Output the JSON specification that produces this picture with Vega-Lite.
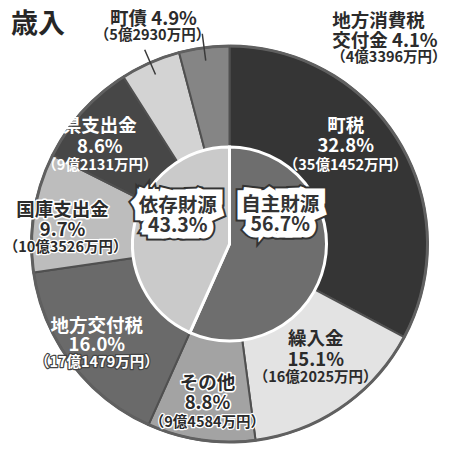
{
  "$schema": "https://vega.github.io/schema/vega-lite/v6.json",
  "width": 459,
  "height": 408,
  "autosize": {"type": "none"},
  "padding": {"left": 0, "top": 40, "right": 0, "bottom": 11},
  "background": "white",
  "title": {
    "text": "歳入",
    "anchor": "start",
    "frame": "group",
    "dx": 11,
    "dy": 50,
    "offset": 4,
    "fontSize": 27,
    "font": "Noto Sans CJK JP",
    "fontWeight": "bold",
    "color": "#262626"
  },
  "config": {
    "view": {"stroke": null},
    "text": {"font": "Noto Sans CJK JP", "fontWeight": "bold", "baseline": "middle"}
  },
  "datasets": {
    "outer": [
      {"idx": 1, "cat": "町税", "value": 32.8, "head": ["町税", "32.8%"], "amount": "（35億1452万円）"},
      {"idx": 2, "cat": "繰入金", "value": 15.1, "head": ["繰入金", "15.1%"], "amount": "（16億2025万円）"},
      {"idx": 3, "cat": "その他", "value": 8.8, "head": ["その他", "8.8%"], "amount": "（9億4584万円）"},
      {"idx": 4, "cat": "地方交付税", "value": 16.0, "head": ["地方交付税", "16.0%"], "amount": "（17億1479万円）"},
      {"idx": 5, "cat": "国庫支出金", "value": 9.7, "head": ["国庫支出金", "9.7%"], "amount": "（10億3526万円）"},
      {"idx": 6, "cat": "県支出金", "value": 8.6, "head": ["県支出金", "8.6%"], "amount": "（9億2131万円）"},
      {"idx": 7, "cat": "町債", "value": 4.9, "head": ["町債 4.9%"], "amount": "（5億2930万円）"},
      {"idx": 8, "cat": "地方消費税交付金", "value": 4.1, "head": ["地方消費税", "交付金 4.1%"], "amount": "（4億3396万円）"}
    ],
    "inner": [
      {"idx": 1, "cat": "自主財源", "value": 56.7, "head": ["自主財源", "56.7%"]},
      {"idx": 2, "cat": "依存財源", "value": 43.3, "head": ["依存財源", "43.3%"]}
    ]
  },
  "layer": [
    {
      "data": {"name": "outer"},
      "mark": {"type": "arc", "outerRadius": 198, "stroke": "#505050", "strokeWidth": 2},
      "encoding": {
        "theta": {"field": "value", "type": "quantitative", "stack": true},
        "order": {"field": "idx"},
        "color": {
          "field": "cat",
          "type": "nominal",
          "legend": null,
          "scale": {
            "domain": ["町税", "繰入金", "その他", "地方交付税", "国庫支出金", "県支出金", "町債", "地方消費税交付金", "自主財源", "依存財源"],
            "range": ["#353535", "#e3e3e3", "#a3a3a3", "#6a6a6a", "#bdbdbd", "#474747", "#d3d3d3", "#858585", "#6e6e6e", "#cacaca"]
          }
        }
      }
    },
    {
      "data": {"name": "inner"},
      "mark": {"type": "arc", "innerRadius": 196.5, "outerRadius": 199.5, "fill": "#606060"},
      "encoding": {
        "theta": {"field": "value", "type": "quantitative", "stack": true},
        "order": {"field": "idx"}
      }
    },
    {
      "data": {"name": "inner"},
      "mark": {"type": "arc", "outerRadius": 97, "stroke": "white", "strokeWidth": 3},
      "encoding": {
        "theta": {"field": "value", "type": "quantitative", "stack": true},
        "order": {"field": "idx"},
        "color": {
          "field": "cat",
          "type": "nominal",
          "legend": null,
          "scale": {
            "domain": ["町税", "繰入金", "その他", "地方交付税", "国庫支出金", "県支出金", "町債", "地方消費税交付金", "自主財源", "依存財源"],
            "range": ["#353535", "#e3e3e3", "#a3a3a3", "#6a6a6a", "#bdbdbd", "#474747", "#d3d3d3", "#858585", "#6e6e6e", "#cacaca"]
          }
        }
      }
    },
    {
      "data": {"name": "outer"},
      "mark": {"type": "arc", "innerRadius": 185, "outerRadius": 212, "padAngle": 3, "fill": null, "fillOpacity": 0, "stroke": "#3a3a3a", "strokeWidth": 1.5},
      "encoding": {
        "theta": {"field": "value", "type": "quantitative", "stack": true},
        "order": {"field": "idx"},
        "strokeOpacity": {"condition": {"test": "datum.idx >= 7", "value": 1}, "value": 0}
      }
    },
    {
      "data": {"name": "outer"},
      "mark": {"type": "text", "radius": 160, "dx": -21, "dy": -36, "fontSize": 18.5, "lineHeight": 20, "color": "#ffffff"},
      "encoding": {
        "theta": {"field": "value", "type": "quantitative", "stack": true},
        "order": {"field": "idx"},
        "text": {"condition": {"test": "datum.cat === '町税'", "field": "head", "type": "nominal"}, "value": ""}
      }
    },
    {
      "data": {"name": "outer"},
      "mark": {"type": "text", "radius": 160, "dx": -21, "dy": 4, "fontSize": 14.5, "color": "#ffffff"},
      "encoding": {
        "theta": {"field": "value", "type": "quantitative", "stack": true},
        "order": {"field": "idx"},
        "text": {"condition": {"test": "datum.cat === '町税'", "field": "amount", "type": "nominal"}, "value": ""}
      }
    },
    {
      "data": {"name": "outer"},
      "mark": {"type": "text", "radius": 160, "dx": -5, "dy": -36, "fontSize": 18.5, "lineHeight": 21, "color": "#2b2b2b"},
      "encoding": {
        "theta": {"field": "value", "type": "quantitative", "stack": true},
        "order": {"field": "idx"},
        "text": {"condition": {"test": "datum.cat === '繰入金'", "field": "head", "type": "nominal"}, "value": ""}
      }
    },
    {
      "data": {"name": "outer"},
      "mark": {"type": "text", "radius": 160, "dx": -5, "dy": 3, "fontSize": 14.5, "color": "#2b2b2b"},
      "encoding": {
        "theta": {"field": "value", "type": "quantitative", "stack": true},
        "order": {"field": "idx"},
        "text": {"condition": {"test": "datum.cat === '繰入金'", "field": "amount", "type": "nominal"}, "value": ""}
      }
    },
    {
      "data": {"name": "outer"},
      "mark": {"type": "text", "radius": 160, "dx": 1, "dy": -19, "fontSize": 18.5, "lineHeight": 20, "color": "#ffffff", "stroke": "#ffffff", "strokeWidth": 3, "strokeJoin": "round"},
      "encoding": {
        "theta": {"field": "value", "type": "quantitative", "stack": true},
        "order": {"field": "idx"},
        "text": {"condition": {"test": "datum.cat === 'その他'", "field": "head", "type": "nominal"}, "value": ""}
      }
    },
    {
      "data": {"name": "outer"},
      "mark": {"type": "text", "radius": 160, "dx": 1, "dy": -19, "fontSize": 18.5, "lineHeight": 20, "color": "#2b2b2b"},
      "encoding": {
        "theta": {"field": "value", "type": "quantitative", "stack": true},
        "order": {"field": "idx"},
        "text": {"condition": {"test": "datum.cat === 'その他'", "field": "head", "type": "nominal"}, "value": ""}
      }
    },
    {
      "data": {"name": "outer"},
      "mark": {"type": "text", "radius": 160, "dx": 1, "dy": 21, "fontSize": 14.5, "color": "#ffffff", "stroke": "#ffffff", "strokeWidth": 2.5, "strokeJoin": "round"},
      "encoding": {
        "theta": {"field": "value", "type": "quantitative", "stack": true},
        "order": {"field": "idx"},
        "text": {"condition": {"test": "datum.cat === 'その他'", "field": "amount", "type": "nominal"}, "value": ""}
      }
    },
    {
      "data": {"name": "outer"},
      "mark": {"type": "text", "radius": 160, "dx": 1, "dy": 21, "fontSize": 14.5, "color": "#2b2b2b"},
      "encoding": {
        "theta": {"field": "value", "type": "quantitative", "stack": true},
        "order": {"field": "idx"},
        "text": {"condition": {"test": "datum.cat === 'その他'", "field": "amount", "type": "nominal"}, "value": ""}
      }
    },
    {
      "data": {"name": "outer"},
      "mark": {"type": "text", "radius": 160, "dx": -5, "dy": -14, "fontSize": 18.5, "lineHeight": 19, "color": "#ffffff"},
      "encoding": {
        "theta": {"field": "value", "type": "quantitative", "stack": true},
        "order": {"field": "idx"},
        "text": {"condition": {"test": "datum.cat === '地方交付税'", "field": "head", "type": "nominal"}, "value": ""}
      }
    },
    {
      "data": {"name": "outer"},
      "mark": {"type": "text", "radius": 160, "dx": -5, "dy": 23, "fontSize": 14.5, "color": "#444444", "stroke": "#444444", "strokeWidth": 2.5, "strokeJoin": "round"},
      "encoding": {
        "theta": {"field": "value", "type": "quantitative", "stack": true},
        "order": {"field": "idx"},
        "text": {"condition": {"test": "datum.cat === '地方交付税'", "field": "amount", "type": "nominal"}, "value": ""}
      }
    },
    {
      "data": {"name": "outer"},
      "mark": {"type": "text", "radius": 160, "dx": -5, "dy": 23, "fontSize": 14.5, "color": "#ffffff"},
      "encoding": {
        "theta": {"field": "value", "type": "quantitative", "stack": true},
        "order": {"field": "idx"},
        "text": {"condition": {"test": "datum.cat === '地方交付税'", "field": "amount", "type": "nominal"}, "value": ""}
      }
    },
    {
      "data": {"name": "outer"},
      "mark": {"type": "text", "radius": 160, "dx": -9, "dy": -8, "fontSize": 18.5, "lineHeight": 20, "color": "#ffffff", "stroke": "#ffffff", "strokeWidth": 3, "strokeJoin": "round"},
      "encoding": {
        "theta": {"field": "value", "type": "quantitative", "stack": true},
        "order": {"field": "idx"},
        "text": {"condition": {"test": "datum.cat === '国庫支出金'", "field": "head", "type": "nominal"}, "value": ""}
      }
    },
    {
      "data": {"name": "outer"},
      "mark": {"type": "text", "radius": 160, "dx": -9, "dy": -8, "fontSize": 18.5, "lineHeight": 20, "color": "#2b2b2b"},
      "encoding": {
        "theta": {"field": "value", "type": "quantitative", "stack": true},
        "order": {"field": "idx"},
        "text": {"condition": {"test": "datum.cat === '国庫支出金'", "field": "head", "type": "nominal"}, "value": ""}
      }
    },
    {
      "data": {"name": "outer"},
      "mark": {"type": "text", "radius": 160, "dx": -6, "dy": 30, "fontSize": 14.5, "color": "#ffffff", "stroke": "#ffffff", "strokeWidth": 2.5, "strokeJoin": "round"},
      "encoding": {
        "theta": {"field": "value", "type": "quantitative", "stack": true},
        "order": {"field": "idx"},
        "text": {"condition": {"test": "datum.cat === '国庫支出金'", "field": "amount", "type": "nominal"}, "value": ""}
      }
    },
    {
      "data": {"name": "outer"},
      "mark": {"type": "text", "radius": 160, "dx": -6, "dy": 30, "fontSize": 14.5, "color": "#2b2b2b"},
      "encoding": {
        "theta": {"field": "value", "type": "quantitative", "stack": true},
        "order": {"field": "idx"},
        "text": {"condition": {"test": "datum.cat === '国庫支出金'", "field": "amount", "type": "nominal"}, "value": ""}
      }
    },
    {
      "data": {"name": "outer"},
      "mark": {"type": "text", "radius": 160, "dx": -11, "dy": -11, "fontSize": 18.5, "lineHeight": 21, "color": "#ffffff"},
      "encoding": {
        "theta": {"field": "value", "type": "quantitative", "stack": true},
        "order": {"field": "idx"},
        "text": {"condition": {"test": "datum.cat === '県支出金'", "field": "head", "type": "nominal"}, "value": ""}
      }
    },
    {
      "data": {"name": "outer"},
      "mark": {"type": "text", "radius": 160, "dx": -11, "dy": 29, "fontSize": 14.5, "color": "#ffffff"},
      "encoding": {
        "theta": {"field": "value", "type": "quantitative", "stack": true},
        "order": {"field": "idx"},
        "text": {"condition": {"test": "datum.cat === '県支出金'", "field": "amount", "type": "nominal"}, "value": ""}
      }
    },
    {
      "data": {"name": "outer"},
      "mark": {"type": "text", "radius": 225, "dx": 14, "dy": -19, "fontSize": 18.5, "lineHeight": 20, "color": "#2b2b2b"},
      "encoding": {
        "theta": {"field": "value", "type": "quantitative", "stack": true},
        "order": {"field": "idx"},
        "text": {"condition": {"test": "datum.cat === '町債'", "field": "head", "type": "nominal"}, "value": ""}
      }
    },
    {
      "data": {"name": "outer"},
      "mark": {"type": "text", "radius": 225, "dx": 13, "dy": -2, "fontSize": 14.5, "color": "#2b2b2b"},
      "encoding": {
        "theta": {"field": "value", "type": "quantitative", "stack": true},
        "order": {"field": "idx"},
        "text": {"condition": {"test": "datum.cat === '町債'", "field": "amount", "type": "nominal"}, "value": ""}
      }
    },
    {
      "data": {"name": "outer"},
      "mark": {"type": "text", "radius": 212, "dx": 130, "dy": -13, "align": "left", "fontSize": 18.5, "lineHeight": 20, "color": "#2b2b2b"},
      "encoding": {
        "theta": {"field": "value", "type": "quantitative", "stack": true},
        "order": {"field": "idx"},
        "text": {"condition": {"test": "datum.cat === '地方消費税交付金'", "field": "head", "type": "nominal"}, "value": ""}
      }
    },
    {
      "data": {"name": "outer"},
      "mark": {"type": "text", "radius": 212, "dx": 129, "dy": 24, "align": "left", "fontSize": 14.5, "color": "#2b2b2b"},
      "encoding": {
        "theta": {"field": "value", "type": "quantitative", "stack": true},
        "order": {"field": "idx"},
        "text": {"condition": {"test": "datum.cat === '地方消費税交付金'", "field": "amount", "type": "nominal"}, "value": ""}
      }
    },
    {
      "data": {"name": "inner"},
      "mark": {"type": "text", "radius": 55, "dx": -3, "dy": -50, "fontSize": 19.5, "lineHeight": 20, "color": "#333333", "stroke": "#333333", "strokeWidth": 17, "strokeJoin": "miter"},
      "encoding": {
        "theta": {"field": "value", "type": "quantitative", "stack": true},
        "order": {"field": "idx"},
        "text": {"condition": {"test": "datum.cat === '自主財源'", "field": "head", "type": "nominal"}, "value": ""}
      }
    },
    {
      "data": {"name": "inner"},
      "mark": {"type": "text", "radius": 55, "dx": -3, "dy": -50, "fontSize": 19.5, "lineHeight": 20, "color": "#ffffff", "stroke": "#ffffff", "strokeWidth": 13, "strokeJoin": "miter"},
      "encoding": {
        "theta": {"field": "value", "type": "quantitative", "stack": true},
        "order": {"field": "idx"},
        "text": {"condition": {"test": "datum.cat === '自主財源'", "field": "head", "type": "nominal"}, "value": ""}
      }
    },
    {
      "data": {"name": "inner"},
      "mark": {"type": "text", "radius": 55, "dx": -3, "dy": -50, "fontSize": 19.5, "lineHeight": 20, "color": "#333333"},
      "encoding": {
        "theta": {"field": "value", "type": "quantitative", "stack": true},
        "order": {"field": "idx"},
        "text": {"condition": {"test": "datum.cat === '自主財源'", "field": "head", "type": "nominal"}, "value": ""}
      }
    },
    {
      "data": {"name": "inner"},
      "mark": {"type": "text", "radius": 55, "dx": 2, "dy": -27, "fontSize": 19.5, "lineHeight": 20, "color": "#333333", "stroke": "#333333", "strokeWidth": 17, "strokeJoin": "miter"},
      "encoding": {
        "theta": {"field": "value", "type": "quantitative", "stack": true},
        "order": {"field": "idx"},
        "text": {"condition": {"test": "datum.cat === '依存財源'", "field": "head", "type": "nominal"}, "value": ""}
      }
    },
    {
      "data": {"name": "inner"},
      "mark": {"type": "text", "radius": 55, "dx": 2, "dy": -27, "fontSize": 19.5, "lineHeight": 20, "color": "#ffffff", "stroke": "#ffffff", "strokeWidth": 13, "strokeJoin": "miter"},
      "encoding": {
        "theta": {"field": "value", "type": "quantitative", "stack": true},
        "order": {"field": "idx"},
        "text": {"condition": {"test": "datum.cat === '依存財源'", "field": "head", "type": "nominal"}, "value": ""}
      }
    },
    {
      "data": {"name": "inner"},
      "mark": {"type": "text", "radius": 55, "dx": 2, "dy": -27, "fontSize": 19.5, "lineHeight": 20, "color": "#333333"},
      "encoding": {
        "theta": {"field": "value", "type": "quantitative", "stack": true},
        "order": {"field": "idx"},
        "text": {"condition": {"test": "datum.cat === '依存財源'", "field": "head", "type": "nominal"}, "value": ""}
      }
    }
  ]
}
